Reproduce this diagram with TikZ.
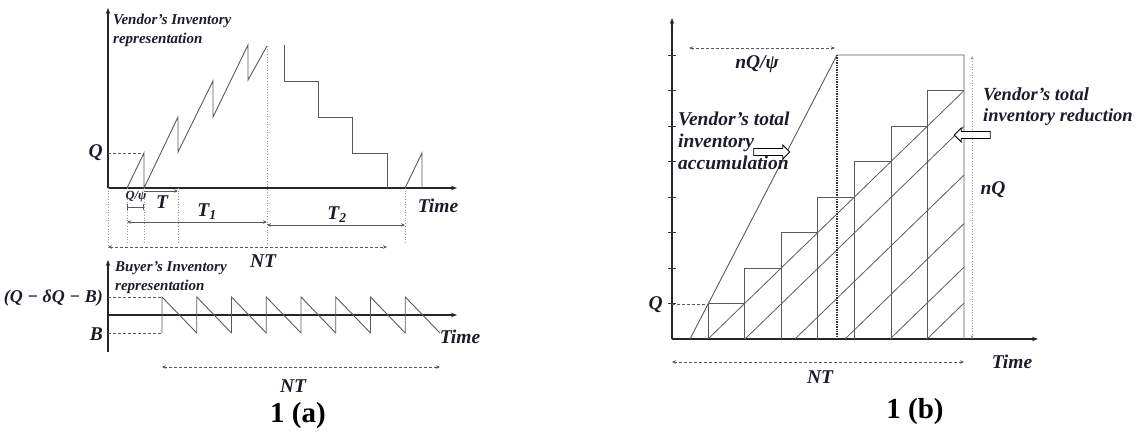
\documentclass[tikz,border=0pt]{standalone}
\usepackage{fontspec}
\setmainfont{Liberation Serif}
\usetikzlibrary{arrows.meta,positioning,calc,shapes.arrows}
\definecolor{inkline}{HTML}{5A5A5A}
\definecolor{inktext}{HTML}{1C1C28}

\begin{document}
\begin{tikzpicture}[x=1pt, y=-1pt,
  axis/.style={black!85, line width=1.5pt, -{Stealth[length=6pt, width=4.5pt]}},
  curve/.style={inkline, line width=0.9pt},
  hatch/.style={inkline, line width=0.8pt},
  guide/.style={inkline, dash pattern=on 3pt off 2pt, line width=0.7pt},
  vguide/.style={gray!80, dotted, line width=0.7pt},
  dim/.style={inkline, line width=0.8pt, {Stealth[length=4pt,width=3.5pt]}-{Stealth[length=4pt,width=3.5pt]}},
  small/.style={font=\bfseries\itshape\fontsize{15}{19}\selectfont, text=inktext, inner sep=0pt, align=left},
  large/.style={font=\bfseries\itshape\fontsize{19.5}{22}\selectfont, text=inktext, inner sep=0pt, align=left},
  note/.style={font=\bfseries\itshape\fontsize{19.5}{22}\selectfont, text=inktext, inner sep=0pt, align=left},
  caption/.style={font=\bfseries\fontsize{29}{29}\selectfont, inner sep=0pt},
  blockarrow/.style={single arrow, draw=black, fill=white, line width=0.8pt, minimum height=36pt,
    minimum width=14pt, single arrow head extend=3.5pt, inner sep=3pt}]
  \useasboundingbox (0,0) rectangle (1140,431);

  % 1 (a), vendor
  \draw[axis] (108,188) -- (457,188);
  \draw[axis] (108,188) -- (108,8);
  \node[small, anchor=north west] (vinv) at (113,14) {Vendor's Inventory\\representation};
  \draw[guide] (108,153) -- (144,153);
  \node[large, anchor=east] (qa) at (103,153) {Q};
  \draw[curve] (127,188) -- (144,153) -- (144,188) -- (178,117) -- (178,152) -- (213,81) -- (213,117)
    -- (248,45) -- (248,80) -- (267,46);
  \draw[curve, line width=1pt] (284,45) -- (284,81) -- (318,81) -- (318,117) -- (352,117) -- (352,153)
    -- (387,153) -- (387,188);
  \draw[curve] (405,188) -- (422,153) -- (422,188);
  \draw[vguide] (267,46) -- (267,244);
  \foreach \x in {127,144,178,405}
    \draw[vguide] (\x,188) -- (\x,244);
  \draw[vguide] (108,188) -- (108,250);
  \draw[curve, |-|] (127,207) -- (144,207);
  \node[font=\bfseries\itshape\fontsize{12.5}{12.5}\selectfont, text=inktext, inner sep=0pt] (qpsi) at (136,197) {Q/ψ};
  \draw[curve, -{Stealth[length=4pt,width=3.5pt]}] (144,191) -- (178,191);
  \node[large] (ta) at (162,202) {T};
  \draw[dim] (127,222) -- (267,222);
  \node[large] (t1) at (207,212) {T\textsubscript{1}};
  \draw[dim] (267,225) -- (405,225);
  \node[large] (t2) at (337,215) {T\textsubscript{2}};
  \draw[dim, dash pattern=on 3pt off 2pt] (108,247) -- (387,247);
  \node[large] (nta) at (263,261) {NT};
  \node[large] (timea) at (438,206) {Time};

  % 1 (a), buyer
  \draw[axis] (108,315) -- (457,315);
  \draw[axis] (108,352) -- (108,260);
  \node[small, anchor=north west] (binv) at (115,261) {Buyer's Inventory\\representation};
  \draw[guide] (108,297) -- (162,297);
  \draw[guide] (108,333) -- (162,333);
  \node[font=\bfseries\itshape\fontsize{18}{20}\selectfont, text=inktext, inner sep=0pt, anchor=east] (lvtop)
    at (103,298) {(Q − δQ − B)};
  \node[large, anchor=east] (lvb) at (103,334) {B};
  \foreach \i in {0,...,7}
    \draw[curve] ({162+34.75*\i},333) -- ({162+34.75*\i},297) -- ({162+34.75*(\i+1)},333);
  \node[large] (timebuy) at (460,337) {Time};
  \draw[dim, dash pattern=on 3pt off 2pt] (162,367) -- (440,367);
  \node[large] (ntbuy) at (293,386) {NT};
  \node[caption] (capa) at (298,416) {1 (a)};

  % 1 (b)
  \draw[axis] (672,339) -- (1038,339);
  \draw[axis] (672,339) -- (672,18);
  \foreach \k in {1,...,8}
    \draw[black!80, line width=0.9pt] (668,{339-35.5*\k}) -- (676,{339-35.5*\k});
  \draw[guide] (672,304) -- (708,304);
  \node[large, anchor=east] (qb) at (663,305) {Q};
  \draw[curve] (690,339) -- (837,55) -- (964,55) -- (964,339);
  \foreach \i in {1,...,7}
    \draw[curve] ({708+36.6*(\i-1)},339) -- ({708+36.6*(\i-1)},{339-35.5*\i}) -- ({708+36.6*\i},{339-35.5*\i});
  \foreach \s in {708,745,795,845,890,927}
    \draw[hatch] (\s,339) -- (964,{339-0.97*(964-\s)});
  \draw[black!80, densely dotted, line width=1.4pt] (837,55) -- (837,339);
  \draw[dim, dash pattern=on 3pt off 2pt] (689,48) -- (835,48);
  \node[note] (nqpsi) at (757,64) {nQ/ψ};
  \draw[vguide, {Stealth[length=4pt]}-{Stealth[length=4pt]}] (972,56) -- (972,339);
  \node[note] (nq) at (993,190) {nQ};
  \node[note, anchor=north west] (acc) at (678,112) {Vendor's total\\inventory\\accumulation};
  \node[blockarrow] (accarrow) at (770,152) {};
  \node[note, font=\bfseries\itshape\fontsize{18.5}{21}\selectfont, anchor=north west] (red) at (983,87)
    {Vendor's total\\inventory reduction};
  \node[blockarrow, shape border rotate=180] (redarrow) at (974,135) {};
  \draw[dim, dash pattern=on 3pt off 2pt] (672,362) -- (964,362);
  \node[large] (ntb) at (820,377) {NT};
  \node[large] (timeb) at (1012,362) {Time};
  \node[caption] (capb) at (915,412) {1 (b)};
\end{tikzpicture}
\end{document}
